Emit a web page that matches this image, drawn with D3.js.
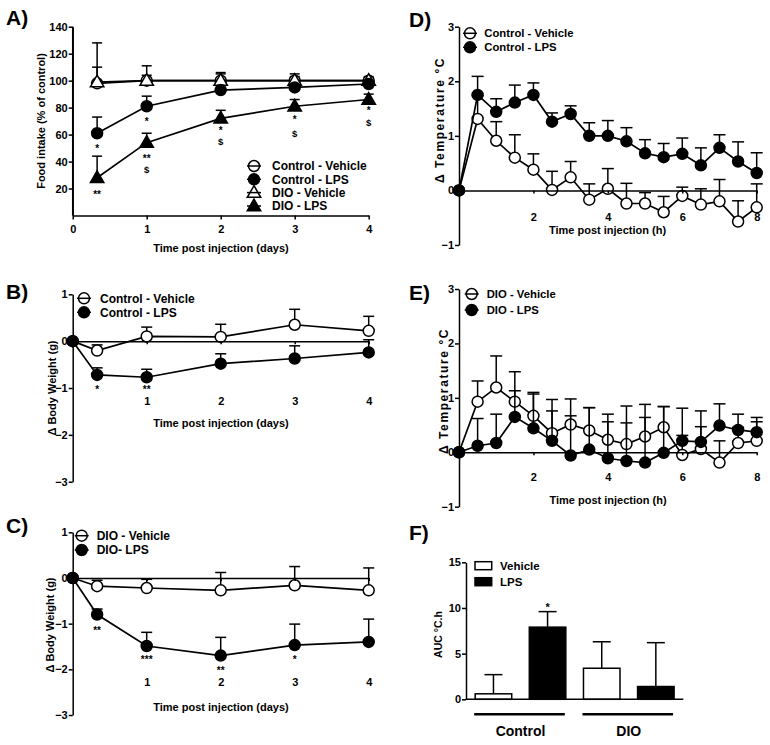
<!DOCTYPE html>
<html><head><meta charset="utf-8">
<script src="https://cdn.jsdelivr.net/npm/d3@7"></script>
<style>
body{margin:0;background:#fff;}
svg text{font-family:"Liberation Sans",Arial,Helvetica,sans-serif;font-weight:bold;fill:#000;}
</style></head><body>
<svg id="c" width="770" height="745"></svg>
<script>
// ---------- DATA ----------
// Panel A: food intake (% of control)
const daysA = [0.33, 1, 2, 3, 4];
const foodCtrlVeh = [98, 100, 100, 100, 100];
const foodCtrlVehSem = [12, 4, 5, 3, 2];
const foodCtrlLps = [61, 81, 93, 95, 97.5];
const foodCtrlLpsSem = [12, 7.5, 2, 2, 1.5];
const foodDioVeh = [99, 100, 100, 100, 100];
const foodDioVehSem = [29, 11, 6, 5, 3];
const foodDioLps = [28, 54, 72, 81, 86];
const foodDioLpsSem = [16, 7, 6, 5, 4];
const ticksA_y = [20, 40, 60, 80, 100, 120, 140];
const ticksA_x = [0, 1, 2, 3, 4];
const annotA = [
  {x: 0.33, y: 52, t: "*"}, {x: 0.33, y: 17.4, t: "**"},
  {x: 1, y: 72, t: "*"}, {x: 1, y: 44, t: "**"}, {x: 1, y: 34, t: "$"},
  {x: 2, y: 65, t: "*"}, {x: 2, y: 55, t: "$"},
  {x: 3, y: 73, t: "*"}, {x: 3, y: 61, t: "$"},
  {x: 4, y: 80, t: "*"}, {x: 4, y: 69, t: "$"}
];

// Panels B & C: delta body weight (g)
const daysBC = [0, 0.33, 1, 2, 3, 4];
const bwCtrlVeh = [0, -0.2, 0.1, 0.09, 0.35, 0.22];
const bwCtrlVehSem = [0, 0.12, 0.2, 0.27, 0.33, 0.31];
const bwCtrlLps = [0, -0.72, -0.77, -0.48, -0.37, -0.24];
const bwCtrlLpsSem = [0, 0.15, 0.17, 0.21, 0.27, 0.27];
const bwDioVeh = [0, -0.18, -0.22, -0.27, -0.16, -0.27];
const bwDioVehSem = [0, 0.13, 0.19, 0.39, 0.41, 0.49];
const bwDioLps = [0, -0.8, -1.49, -1.7, -1.47, -1.4];
const bwDioLpsSem = [0, 0.12, 0.3, 0.4, 0.46, 0.5];
const ticksBC_y = [-3, -2, -1, 0, 1];
const ticksBC_x = [1, 2, 3, 4];
const annotB = [{x: 0.33, y: -0.98, t: "*"}, {x: 1, y: -0.98, t: "**"}];
const annotC = [{x: 0.33, y: -1.09, t: "**"}, {x: 1, y: -1.73, t: "***"}, {x: 2, y: -1.96, t: "**"}, {x: 3, y: -1.73, t: "*"}];

// Panels D & E: delta temperature (°C)
const hours = [0, 0.5, 1, 1.5, 2, 2.5, 3, 3.5, 4, 4.5, 5, 5.5, 6, 6.5, 7, 7.5, 8];
const tCtrlVeh = [0, 1.31, 0.91, 0.6, 0.38, 0.01, 0.24, -0.17, 0.03, -0.24, -0.24, -0.4, -0.1, -0.26, -0.2, -0.57, -0.31];
const tCtrlVehSem = [0, 0.43, 0.35, 0.42, 0.29, 0.34, 0.29, 0.29, 0.37, 0.37, 0.2, 0.29, 0.16, 0.29, 0.4, 0.38, 0.43];
const tCtrlLps = [0, 1.75, 1.44, 1.61, 1.75, 1.26, 1.4, 1.0, 1.0, 0.9, 0.68, 0.61, 0.67, 0.46, 0.78, 0.53, 0.32];
const tCtrlLpsSem = [0, 0.34, 0.24, 0.32, 0.22, 0.16, 0.15, 0.24, 0.28, 0.25, 0.25, 0.25, 0.29, 0.32, 0.24, 0.36, 0.37];
const tDioVeh = [0, 0.93, 1.19, 0.93, 0.67, 0.35, 0.51, 0.4, 0.23, 0.15, 0.29, 0.46, -0.05, 0.06, -0.19, 0.17, 0.21];
const tDioVehSem = [0, 0.38, 0.58, 0.55, 0.43, 0.62, 0.47, 0.42, 0.47, 0.7, 0.59, 0.38, 0.86, 0.7, 0.4, 0.29, 0.35];
const tDioLps = [0, 0.12, 0.17, 0.65, 0.44, 0.21, -0.06, 0.05, -0.11, -0.16, -0.19, -0.01, 0.21, 0.19, 0.49, 0.41, 0.37];
const tDioLpsSem = [0, 0.5, 0.53, 0.48, 0.63, 0.55, 0.73, 0.77, 0.67, 0.7, 0.83, 0.85, 0.1, 0.28, 0.4, 0.29, 0.27];
const ticksDE_y = [-1, 0, 1, 2, 3];
const ticksDE_x = [2, 4, 6, 8];

// Panel F: AUC °C.h
const groupsF = ["Control", "DIO"];
const treatF = ["Vehicle", "LPS"];
const aucVeh = [0.6, 3.4];
const aucVehSem = [2.1, 2.9];
const aucLps = [7.9, 1.4];
const aucLpsSem = [1.7, 4.8];
const ticksF_y = [0, 5, 10, 15];
const annotF = [{g: "Control", s: "LPS", y: 10.4, t: "*"}];

// ---------- DRAWING ----------
const svg = d3.select("#c");
const SW = 1.5;
const fmtInt = d3.format("d");

function yAxis(y, x0, ticks, fs) {
  const g = svg.append("g").attr("transform", `translate(${x0},0)`)
    .call(d3.axisLeft(y).tickValues(ticks).tickFormat(fmtInt).tickSize(4).tickPadding(1).tickSizeOuter(0));
  g.attr("font-size", fs || 11);
  g.selectAll("path,line").attr("stroke-width", SW);
  return g;
}
function xAxis(x, y0, ticks, tickLen, pad) {
  const g = svg.append("g").attr("transform", `translate(0,${y0})`)
    .call(d3.axisBottom(x).tickValues(ticks).tickSize(tickLen).tickPadding(pad).tickSizeOuter(0).tickFormat(fmtInt));
  g.attr("font-size", 11);
  g.selectAll("path,line").attr("stroke-width", SW);
  return g;
}
function marker(g, cx, cy, shape, filled) {
  if (shape === "circle") {
    g.append("circle").attr("cx", cx).attr("cy", cy).attr("r", 5.5)
      .attr("fill", filled ? "#000" : "#fff").attr("stroke", "#000").attr("stroke-width", SW);
  } else {
    g.append("path").attr("d", d3.symbol(d3.symbolTriangle, 78)())
      .attr("transform", `translate(${cx},${cy + 0.8})`)
      .attr("fill", filled ? "#000" : "#fff").attr("stroke", "#000").attr("stroke-width", SW);
  }
}
function series(x, y, xs, mean, sem, shape, filled, cap) {
  const g = svg.append("g");
  const pts = xs.map((v, i) => ({x: v, m: mean[i], s: sem[i]}));
  pts.filter(p => p.s > 0).forEach(p => {
    g.append("line").attr("x1", x(p.x)).attr("x2", x(p.x)).attr("y1", y(p.m)).attr("y2", y(p.m + p.s))
      .attr("stroke", "#000").attr("stroke-width", SW);
    g.append("line").attr("x1", x(p.x) - cap / 2).attr("x2", x(p.x) + cap / 2)
      .attr("y1", y(p.m + p.s)).attr("y2", y(p.m + p.s)).attr("stroke", "#000").attr("stroke-width", SW);
  });
  g.append("path").datum(pts).attr("d", d3.line().x(p => x(p.x)).y(p => y(p.m)))
    .attr("fill", "none").attr("stroke", "#000").attr("stroke-width", 1.7);
  pts.forEach(p => marker(g, x(p.x), y(p.m), shape, filled));
}
function legend(x0, tx, rows, items, fs) {
  items.forEach((it, i) => {
    const g = svg.append("g");
    marker(g, x0, rows[i], it.shape, it.filled);
    g.append("line").attr("x1", x0 - 7).attr("x2", x0 + 7).attr("y1", rows[i]).attr("y2", rows[i])
      .attr("stroke", "#000").attr("stroke-width", SW);
    g.append("text").attr("x", tx).attr("y", rows[i]).attr("dy", "0.36em").attr("font-size", fs).text(it.label);
  });
}
function annot(x, y, list) {
  list.forEach(a => {
    svg.append("text").attr("x", x(a.x)).attr("y", y(a.y)).attr("dy", a.t === "$" ? "0.36em" : "0.62em")
      .attr("text-anchor", "middle").attr("font-size", a.t === "$" ? 9.5 : 10).text(a.t);
  });
}
function title(x, y, txt, fs) {
  svg.append("text").attr("x", x).attr("y", y).attr("dy", "0.36em").attr("text-anchor", "middle")
    .attr("font-size", fs || 11).text(txt);
}
function ytitle(x, y, txt, fs, ls) {
  svg.append("text").attr("transform", `translate(${x},${y}) rotate(-90)`).attr("dy", "0.36em")
    .attr("text-anchor", "middle").attr("font-size", fs || 11).attr("letter-spacing", ls || 0).text(txt);
}
function panelLabel(x, y, t) {
  svg.append("text").attr("x", x).attr("y", y).attr("font-size", 21).text(t);
}

// ---- Panel A ----
const xDays = d3.scaleLinear().domain([0, 4]).range([72.7, 368.7]);
const yA = d3.scaleLinear().domain([0, 140]).range([215.5, 26.7]);
series(xDays, yA, daysA, foodCtrlVeh, foodCtrlVehSem, "circle", false, 10);
series(xDays, yA, daysA, foodDioVeh, foodDioVehSem, "triangle", false, 10);
series(xDays, yA, daysA, foodCtrlLps, foodCtrlLpsSem, "circle", true, 10);
series(xDays, yA, daysA, foodDioLps, foodDioLpsSem, "triangle", true, 10);
yAxis(yA, 72.7, ticksA_y);
svg.append("line").attr("x1", 72.7).attr("x2", 72.7).attr("y1", yA(140)).attr("y2", yA(0)).attr("stroke", "#000").attr("stroke-width", SW);
xAxis(xDays, 215.5, ticksA_x, 4, 5.5);
annot(xDays, yA, annotA);
legend(254, 272, [166, 179.3, 192.6, 206], [
  {label: "Control - Vehicle", shape: "circle", filled: false},
  {label: "Control - LPS", shape: "circle", filled: true},
  {label: "DIO - Vehicle", shape: "triangle", filled: false},
  {label: "DIO - LPS", shape: "triangle", filled: true}], 12);
title(221, 248.3, "Time post injection (days)");
ytitle(40.7, 121, "Food intake (% of control)");
panelLabel(6, 25, "A)");

// ---- Panel B ----
const yB = d3.scaleLinear().domain([-3, 1]).range([481.7, 294.3]);
series(xDays, yB, daysBC, bwCtrlVeh, bwCtrlVehSem, "circle", false, 11);
series(xDays, yB, daysBC, bwCtrlLps, bwCtrlLpsSem, "circle", true, 11);
yAxis(yB, 72.7, ticksBC_y);
xAxis(xDays, yB(0), ticksBC_x, 3, 53);
annot(xDays, yB, annotB);
legend(84, 100, [298.3, 312.3], [
  {label: "Control - Vehicle", shape: "circle", filled: false},
  {label: "Control - LPS", shape: "circle", filled: true}], 12);
title(221, 423.3, "Time post injection (days)");
ytitle(52.5, 388, "\u0394 Body Weight (g)");
panelLabel(6, 299, "B)");

// ---- Panel C ----
const yC = d3.scaleLinear().domain([-3, 1]).range([715, 532.3]);
series(xDays, yC, daysBC, bwDioVeh, bwDioVehSem, "circle", false, 11);
series(xDays, yC, daysBC, bwDioLps, bwDioLpsSem, "circle", true, 11);
yAxis(yC, 72.7, ticksBC_y);
xAxis(xDays, yC(0), ticksBC_x, 3, 97.5);
annot(xDays, yC, annotC);
legend(81.7, 96.7, [535.7, 550], [
  {label: "DIO - Vehicle", shape: "circle", filled: false},
  {label: "DIO- LPS", shape: "circle", filled: true}], 12);
title(221, 706.7, "Time post injection (days)");
ytitle(50.5, 625, "\u0394 Body Weight (g)");
panelLabel(6, 533, "C)");

// ---- Panel D ----
const xH = d3.scaleLinear().domain([0, 8]).range([459, 756.7]);
const yD = d3.scaleLinear().domain([-1, 3]).range([245, 26.7]);
series(xH, yD, hours, tCtrlVeh, tCtrlVehSem, "circle", false, 12);
series(xH, yD, hours, tCtrlLps, tCtrlLpsSem, "circle", true, 12);
yAxis(yD, 459, ticksDE_y);
xAxis(xH, yD(0), ticksDE_x, 3, 20);
legend(470, 484.3, [33.3, 47.3], [
  {label: "Control - Vehicle", shape: "circle", filled: false},
  {label: "Control - LPS", shape: "circle", filled: true}], 11.3);
title(607.5, 230, "Time post injection (h)");
ytitle(440, 120, "\u0394 Temperature \u00B0C", 12, 1.6);
panelLabel(409, 27, "D)");

// ---- Panel E ----
const yE = d3.scaleLinear().domain([-1, 3]).range([506.7, 289]);
series(xH, yE, hours, tDioVeh, tDioVehSem, "circle", false, 12);
series(xH, yE, hours, tDioLps, tDioLpsSem, "circle", true, 12);
yAxis(yE, 459, ticksDE_y);
xAxis(xH, yE(0), ticksDE_x, 3, 17.5);
legend(471.7, 486.7, [294, 310], [
  {label: "DIO - Vehicle", shape: "circle", filled: false},
  {label: "DIO - LPS", shape: "circle", filled: true}], 11.3);
title(608, 500, "Time post injection (h)");
ytitle(444, 391, "\u0394 Temperature \u00B0C", 12, 1.6);
panelLabel(409, 300, "E)");

// ---- Panel F ----
const yF = d3.scaleLinear().domain([0, 15]).range([699.3, 562.3]);
const x0F = d3.scaleBand().domain(groupsF).range([466, 683.3]).paddingInner(0.163).paddingOuter(0.085);
const x1F = d3.scaleBand().domain(treatF).range([0, x0F.bandwidth()]).paddingInner(0.325).paddingOuter(0);
const valsF = {Vehicle: aucVeh, LPS: aucLps};
const semF = {Vehicle: aucVehSem, LPS: aucLpsSem};
groupsF.forEach((gname, gi) => {
  treatF.forEach(t => {
    const bx = x0F(gname) + x1F(t), bw = x1F.bandwidth();
    const v = valsF[t][gi], s = semF[t][gi];
    const cx = bx + bw / 2;
    svg.append("line").attr("x1", cx).attr("x2", cx).attr("y1", yF(v)).attr("y2", yF(v + s)).attr("stroke", "#000").attr("stroke-width", SW);
    svg.append("line").attr("x1", cx - 9).attr("x2", cx + 9).attr("y1", yF(v + s)).attr("y2", yF(v + s)).attr("stroke", "#000").attr("stroke-width", SW);
    svg.append("rect").attr("x", bx).attr("y", yF(v)).attr("width", bw).attr("height", yF(0) - yF(v))
      .attr("fill", t === "LPS" ? "#000" : "#fff").attr("stroke", "#000").attr("stroke-width", SW);
  });
  svg.append("line").attr("x1", x0F(gname) - 1).attr("x2", x0F(gname) + x0F.bandwidth() - 1)
    .attr("y1", 714.3).attr("y2", 714.3).attr("stroke", "#000").attr("stroke-width", 2.5);
  svg.append("text").attr("x", x0F(gname) + x0F.bandwidth() / 2).attr("y", 736).attr("text-anchor", "middle")
    .attr("font-size", 14).text(gname);
});
annotF.forEach(a => {
  svg.append("text").attr("x", x0F(a.g) + x1F(a.s) + x1F.bandwidth() / 2).attr("y", yF(a.y)).attr("dy", "0.62em")
    .attr("text-anchor", "middle").attr("font-size", 11).text(a.t);
});
yAxis(yF, 466, ticksF_y);
svg.append("line").attr("x1", 466).attr("x2", 683.3).attr("y1", yF(0)).attr("y2", yF(0)).attr("stroke", "#000").attr("stroke-width", SW);
treatF.forEach((t, i) => {
  const ry = [565.7, 581.7][i];
  svg.append("rect").attr("x", 475).attr("y", ry - 4).attr("width", 16.7).attr("height", 8)
    .attr("fill", t === "LPS" ? "#000" : "#fff").attr("stroke", "#000").attr("stroke-width", SW);
  svg.append("text").attr("x", 500).attr("y", ry).attr("dy", "0.36em").attr("font-size", 11.5).text(t);
});
ytitle(438.3, 634.5, "AUC \u00B0C.h", 10.5);
panelLabel(409, 540, "F)");
</script>
</body></html>
